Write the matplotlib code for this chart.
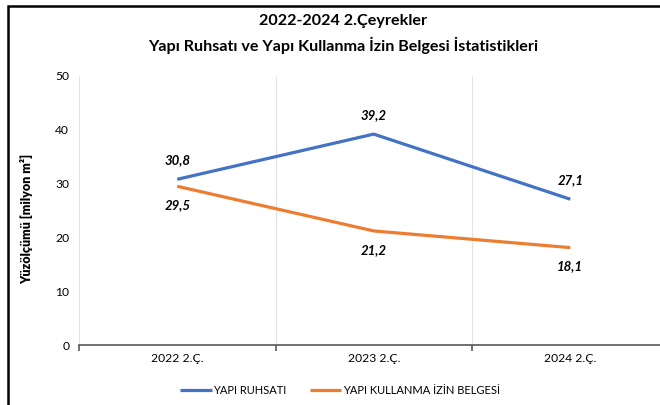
import matplotlib.pyplot as plt
from matplotlib.patches import Rectangle

plt.rcParams['font.family'] = ['Lato', 'DejaVu Sans']

quarters = ["2022 2.Ç.", "2023 2.Ç.", "2024 2.Ç."]
ruhsat = [30.8, 39.2, 27.1]
kullanma = [29.5, 21.2, 18.1]
ruhsat_labels = ["30,8", "39,2", "27,1"]
kullanma_labels = ["29,5", "21,2", "18,1"]

blue = "#4472C4"
orange = "#ED7D31"

fig = plt.figure(figsize=(6.6, 4.05), dpi=100)
ax = fig.add_axes([79 / 660, 1 - 345 / 405, 589.5 / 660, 269 / 405])

x = list(range(len(quarters)))
ax.plot(x, ruhsat, color=blue, lw=2.3, solid_capstyle="butt", label="YAPI RUHSATI")
ax.plot(x, kullanma, color=orange, lw=2.3, solid_capstyle="butt", label="YAPI KULLANMA İZİN BELGESİ")

for i in x:
    ax.annotate(ruhsat_labels[i], (i, ruhsat[i]), xytext=(0, 13.5), textcoords="offset points",
                ha="center", va="center", fontsize=9.5, fontweight="bold", fontstyle="italic")
    ax.annotate(kullanma_labels[i], (i, kullanma[i]), xytext=(0, -13.5), textcoords="offset points",
                ha="center", va="center", fontsize=9.5, fontweight="bold", fontstyle="italic")

ax.set_xlim(-0.5, 2.5)
ax.set_ylim(0, 50)
ax.set_yticks(range(0, 51, 10))
ax.set_xticks(x)
ax.set_xticklabels(quarters)
ax.set_xticks([-0.5, 0.5, 1.5, 2.5], minor=True)
ax.grid(True, which="minor", axis="x", color="#E3E3E3", lw=0.8)
ax.tick_params(axis="x", which="major", length=0, labelsize=8.7, pad=6)
ax.tick_params(axis="x", which="minor", length=4, width=1.2, color="#595959", direction="out")
ax.tick_params(axis="y", length=0, labelsize=8.7, pad=7)

for s in ["top", "right", "left"]:
    ax.spines[s].set_visible(False)
ax.spines["bottom"].set_color("#595959")
ax.spines["bottom"].set_linewidth(1.2)

ax.set_ylabel("Yüzölçümü [milyon m²]", fontsize=9, fontweight="heavy")
ax.yaxis.set_label_coords(-0.078, 0.47)

fig.text(343 / 660, 1 - 21 / 405, "2022-2024 2.Çeyrekler", ha="center", va="center",
         fontsize=11.6, fontweight="bold")
fig.text(343 / 660, 1 - 45 / 405, "Yapı Ruhsatı ve Yapı Kullanma İzin Belgesi İstatistikleri",
         ha="center", va="center", fontsize=11.6, fontweight="bold")

fig.legend(loc="center", bbox_to_anchor=(340 / 660, 1 - 390 / 405), ncol=2, frameon=False,
           fontsize=8, handlelength=2.8, handletextpad=0.1, columnspacing=2.2)

fig.patches.append(Rectangle((8 / 660, -0.1), 1.2, 1 - 6 / 405 + 0.1, transform=fig.transFigure,
                             fill=False, edgecolor="black", lw=1.8))

fig.savefig("out.png", dpi=100)
